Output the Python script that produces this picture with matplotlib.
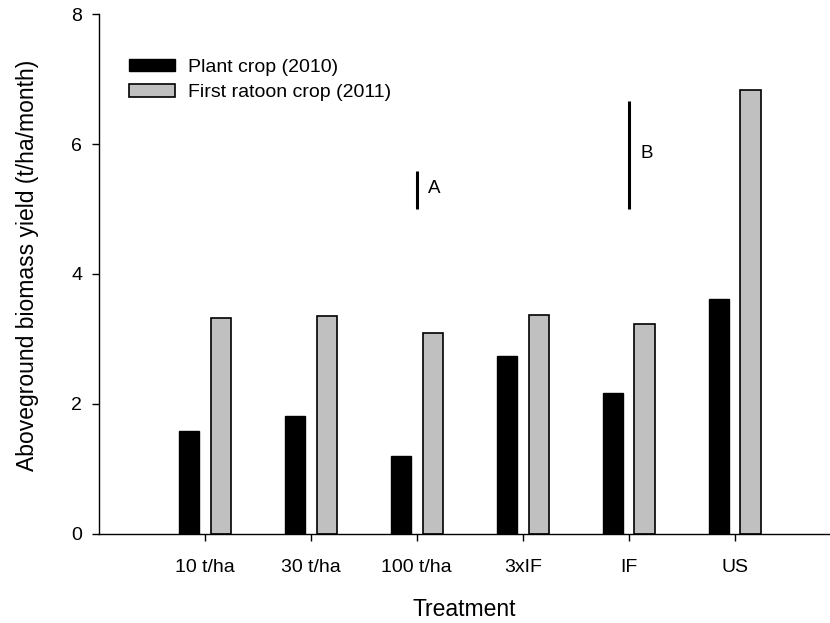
import matplotlib
matplotlib.use('Agg')
import matplotlib.pyplot as plt
import numpy as np

plt.rcParams['font.family'] = ['Liberation Sans', 'DejaVu Sans']

treatments = ['10 t/ha', '30 t/ha', '100 t/ha', '3xIF', 'IF', 'US']
plant_2010 = [1.59, 1.81, 1.20, 2.74, 2.17, 3.62]
ratoon_2011 = [3.33, 3.35, 3.09, 3.37, 3.23, 6.83]

# LSD bars: (x category index, bottom, top, label)
lsd_a = (3, 5.0, 5.58, 'A')
lsd_b = (5, 5.0, 6.66, 'B')

fig = plt.figure(figsize=(8.3, 6.23), dpi=100)
ax = fig.add_axes([0.119, 0.1429, 0.881, 0.8346])

x = np.arange(1, len(treatments) + 1)
w = 0.19
ax.bar(x - 0.15, plant_2010, w, color='black', edgecolor='black', linewidth=1,
       label='Plant crop (2010)')
ax.bar(x + 0.15, ratoon_2011, w, color='#c0c0c0', edgecolor='black', linewidth=1.2,
       label='First ratoon crop (2011)')

for xi, lo, hi, txt in (lsd_a, lsd_b):
    ax.plot([xi, xi], [lo, hi], color='black', lw=2.2, solid_capstyle='butt')
    ax.text(xi + 0.11, (lo + hi) / 2 + 0.02, txt, fontsize=13.5, va='center', ha='left')

ax.set_xlim(0, 6.9)
ax.set_ylim(0, 8)
ax.set_xticks(x)
ax.set_xticklabels(treatments, fontsize=14)
ax.set_yticks([0, 2, 4, 6, 8])
ax.tick_params(axis='y', labelsize=14, length=5, width=1, pad=7)
ax.tick_params(axis='x', length=5, width=1, pad=13)
ax.spines['top'].set_visible(False)
ax.spines['right'].set_visible(False)
ax.spines['left'].set_linewidth(1)
ax.spines['bottom'].set_linewidth(1)

ax.set_xlabel('Treatment', fontsize=16.5)
ax.set_ylabel('Aboveground biomass yield (t/ha/month)', fontsize=16.5)
ax.xaxis.set_label_coords(0.5, -0.123)
ax.yaxis.set_label_coords(-0.082, 0.517)

ax.legend(loc='upper left', bbox_to_anchor=(129 / 830, 1 - 59 / 623),
          bbox_transform=fig.transFigure, frameon=False, fontsize=14,
          borderpad=0, borderaxespad=0,
          handlelength=2.37, handleheight=0.6, labelspacing=0.42, handletextpad=0.67)

fig.savefig('out.png', dpi=100)
